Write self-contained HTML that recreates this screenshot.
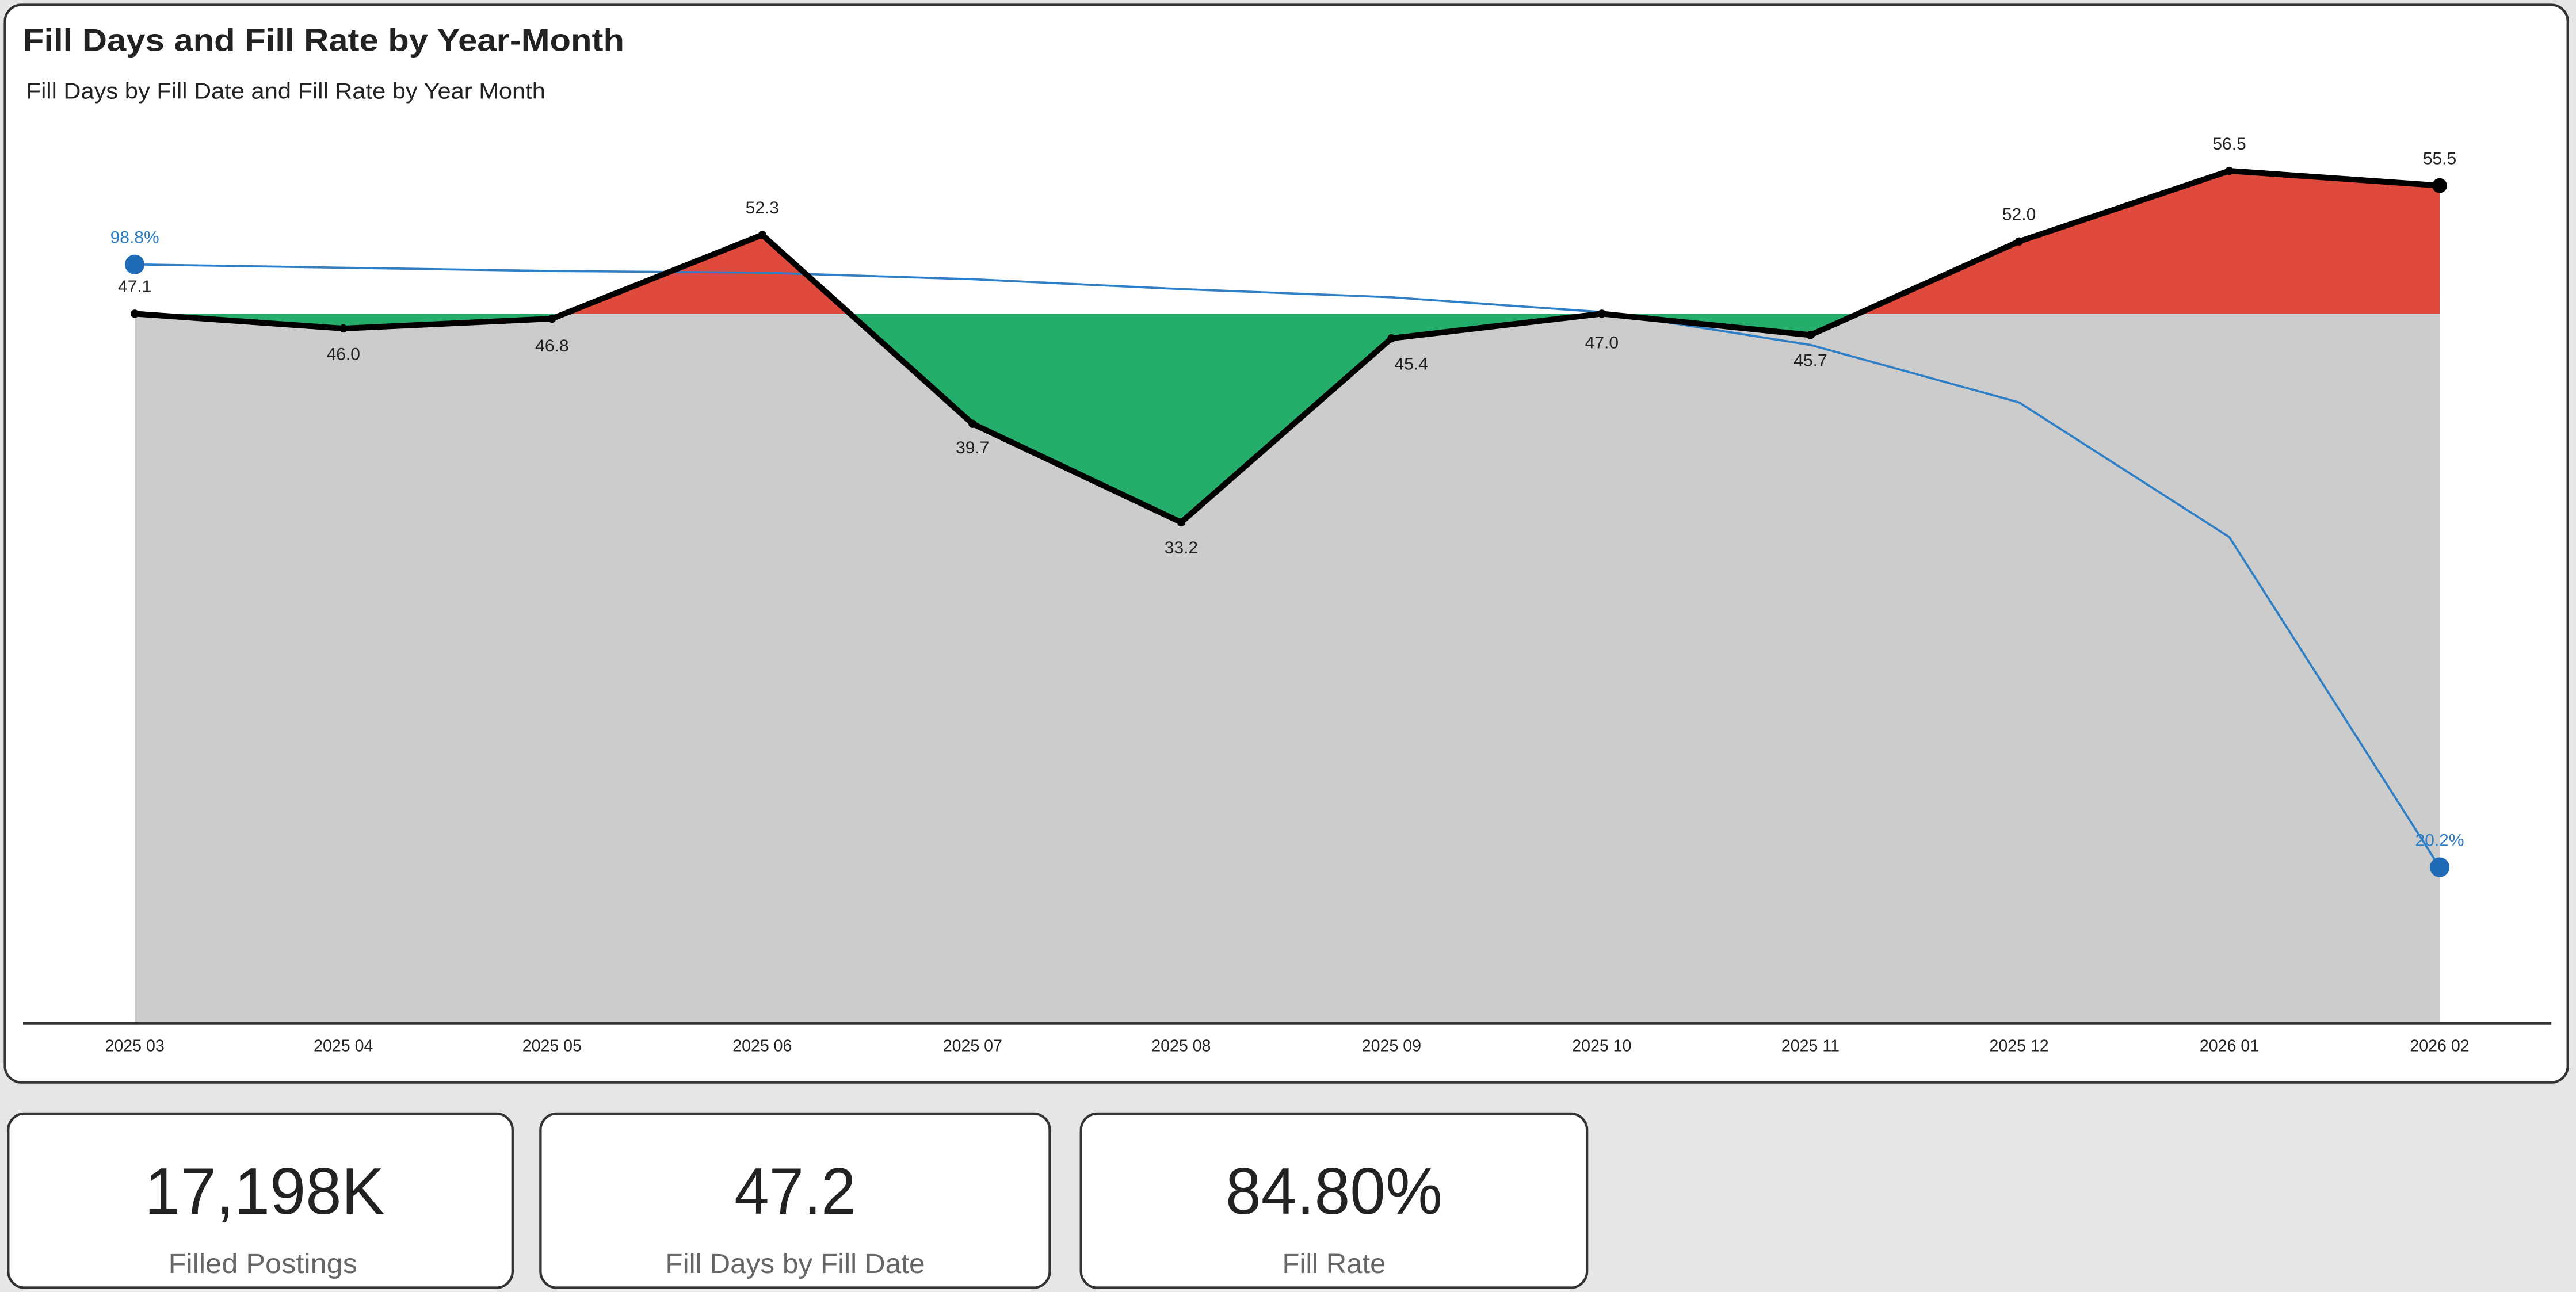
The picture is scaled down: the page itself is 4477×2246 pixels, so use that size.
<!DOCTYPE html>
<html><head><meta charset="utf-8"><style>
html,body{margin:0;padding:0;background:#e6e6e6;}
svg{display:block;}
text{font-family:"Liberation Sans",sans-serif;}
</style></head><body>
<svg width="4477" height="2246" viewBox="0 0 1568 786.6" preserveAspectRatio="none" xmlns="http://www.w3.org/2000/svg">
<rect x="0" y="0" width="1568" height="786.6" fill="#e6e6e6"/>
<rect x="3" y="3" width="1560" height="656" rx="10" fill="#fff" stroke="#333" stroke-width="1.5"/>
<text x="14" y="31" font-size="19" font-weight="bold" fill="#222" textLength="366" lengthAdjust="spacingAndGlyphs">Fill Days and Fill Rate by Year-Month</text>
<text x="16" y="60" font-size="13.5" fill="#222" textLength="316" lengthAdjust="spacingAndGlyphs">Fill Days by Fill Date and Fill Rate by Year Month</text>
<defs>
<clipPath id="above"><rect x="0" y="0" width="1568" height="191"/></clipPath>
<clipPath id="below"><rect x="0" y="191" width="1568" height="500"/></clipPath>
</defs>
<rect x="82" y="191" width="1403" height="432" fill="#cccccc"/>
<g>
<polygon clip-path="url(#above)" fill="#e04a3c" points="82,191 209,200 336,194 464,143 592,258 719,318 847,206 975,191 1102,204 1229,147 1357,104 1485,113 1485,191 82,191"/>
<polygon clip-path="url(#below)" fill="#24ad6b" points="82,191 209,200 336,194 464,143 592,258 719,318 847,206 975,191 1102,204 1229,147 1357,104 1485,113 1485,191 82,191"/>
</g>
<line x1="14" y1="623" x2="1553" y2="623" stroke="#333" stroke-width="1.3"/>
<polyline fill="none" stroke="#2e7fc6" stroke-width="1.3" points="82,161 209,163 336,165 464,166 592,170 719,176 847,181 975,190 1102,210 1229,245 1357,327 1485,528"/>
<polyline fill="none" stroke="#000" stroke-width="3.5" stroke-linejoin="round" points="82,191 209,200 336,194 464,143 592,258 719,318 847,206 975,191 1102,204 1229,147 1357,104 1485,113"/>
<g fill="#000">
<circle cx="82" cy="191" r="2.5"/><circle cx="209" cy="200" r="2.5"/><circle cx="336" cy="194" r="2.5"/><circle cx="464" cy="143" r="2.5"/><circle cx="592" cy="258" r="2.5"/><circle cx="719" cy="318" r="2.5"/><circle cx="847" cy="206" r="2.5"/><circle cx="975" cy="191" r="2.5"/><circle cx="1102" cy="204" r="2.5"/><circle cx="1229" cy="147" r="2.5"/><circle cx="1357" cy="104" r="2.5"/><circle cx="1485" cy="113" r="4.5"/>
</g>
<circle cx="82" cy="161" r="6" fill="#1f6bb5"/>
<circle cx="1485" cy="528" r="6" fill="#1f6bb5"/>
<g font-size="10.5" fill="#222" text-anchor="middle">
<text x="82" y="178">47.1</text><text x="209" y="219">46.0</text><text x="336" y="214">46.8</text><text x="464" y="130">52.3</text><text x="592" y="276">39.7</text><text x="719" y="337">33.2</text><text x="859" y="225">45.4</text><text x="975" y="212">47.0</text><text x="1102" y="223">45.7</text><text x="1229" y="134">52.0</text><text x="1357" y="91">56.5</text><text x="1485" y="100">55.5</text>
</g>
<g font-size="10.5" fill="#2e7fc6" text-anchor="middle">
<text x="82" y="148">98.8%</text><text x="1485" y="515">20.2%</text>
</g>
<g font-size="10" fill="#222" text-anchor="middle">
<text x="82" y="640">2025 03</text><text x="209" y="640">2025 04</text><text x="336" y="640">2025 05</text><text x="464" y="640">2025 06</text><text x="592" y="640">2025 07</text><text x="719" y="640">2025 08</text><text x="847" y="640">2025 09</text><text x="975" y="640">2025 10</text><text x="1102" y="640">2025 11</text><text x="1229" y="640">2025 12</text><text x="1357" y="640">2026 01</text><text x="1485" y="640">2026 02</text>
</g>
<g stroke="#333" stroke-width="1.5" fill="#fff">
<rect x="5" y="678" width="307" height="106" rx="10"/>
<rect x="329" y="678" width="310" height="106" rx="10"/>
<rect x="658" y="678" width="308" height="106" rx="10"/>
</g>
<g text-anchor="middle">
<text x="161" y="739" font-size="40" fill="#222" textLength="146" lengthAdjust="spacingAndGlyphs">17,198K</text>
<text x="484" y="739" font-size="40" fill="#222" textLength="74" lengthAdjust="spacingAndGlyphs">47.2</text>
<text x="812" y="739" font-size="40" fill="#222" textLength="132" lengthAdjust="spacingAndGlyphs">84.80%</text>
<text x="160" y="775" font-size="17" fill="#666" textLength="115" lengthAdjust="spacingAndGlyphs">Filled Postings</text>
<text x="484" y="775" font-size="17" fill="#666" textLength="158" lengthAdjust="spacingAndGlyphs">Fill Days by Fill Date</text>
<text x="812" y="775" font-size="17" fill="#666" textLength="63" lengthAdjust="spacingAndGlyphs">Fill Rate</text>
</g>
</svg>
</body></html>
